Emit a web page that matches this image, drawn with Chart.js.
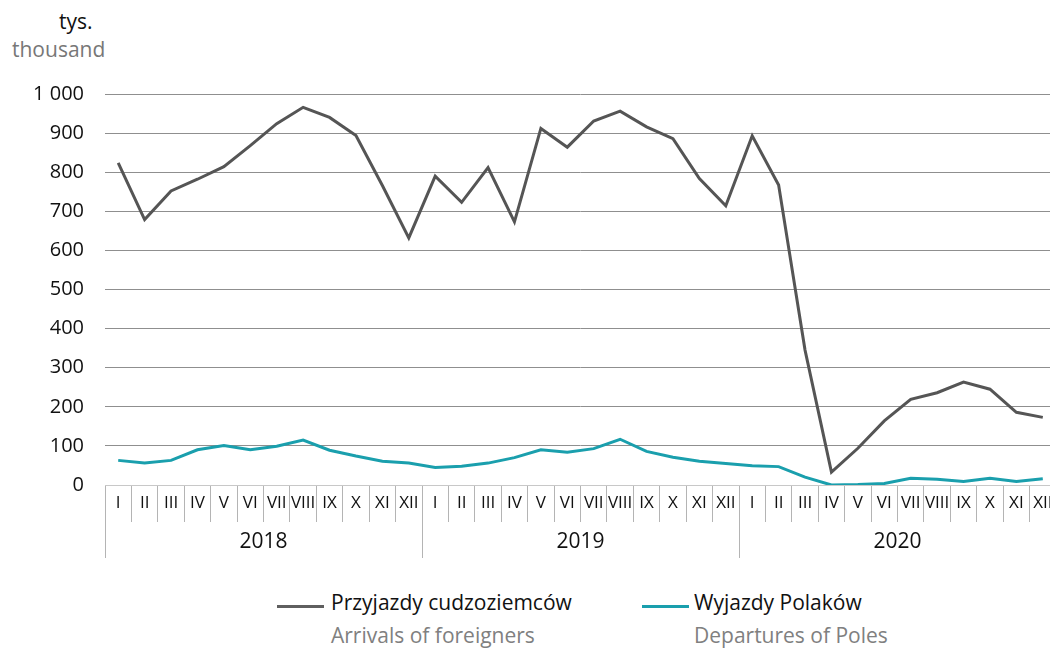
<!DOCTYPE html>
<html lang="pl">
<head>
  <meta charset="utf-8">
  <title>Przyjazdy i wyjazdy</title>
  <script src="https://cdn.jsdelivr.net/npm/chart.js"></script>
  <style>
    * { box-sizing: border-box; margin: 0; padding: 0; }
    html, body { width: 1050px; height: 650px; overflow: hidden; background: #fff; }
    body { position: relative; font-family: 'Open Sans', sans-serif; }
    #wrap { position: absolute; left: 0; top: 0; width: 1060px; height: 560px; }
    .unit { position: absolute; font-size: 21px; line-height: 1; white-space: nowrap; }
    #unitPl { left: 59px; top: 11px; color: #111; }
    #unitEn { left: 12px; top: 39px; color: #777; }
    .leg { position: absolute; top: 592px; font-size: 21px; line-height: 1; white-space: nowrap; }
    .leg .swatch { position: absolute; top: 13px; height: 3px; }
    .leg .pl { color: #111; }
    .leg .en { color: #808080; margin-top: 12px; }
  </style>
</head>
<body>
  <div class="unit" id="unitPl">tys.</div>
  <div class="unit" id="unitEn">thousand</div>
  <div id="wrap"><canvas id="chart"></canvas></div>

  <div class="leg" style="left:331px">
    <span class="swatch" style="left:-54px;width:47px;background:#5f5f5f"></span>
    <div class="pl">Przyjazdy cudzoziemców</div>
    <div class="en">Arrivals of foreigners</div>
  </div>
  <div class="leg" style="left:694px">
    <span class="swatch" style="left:-52px;width:47px;background:#1a9fad"></span>
    <div class="pl">Wyjazdy Polaków</div>
    <div class="en">Departures of Poles</div>
  </div>

  <script>
    // monthly figures, thousands
    const years = ['2018', '2019', '2020'];
    const months = ['I', 'II', 'III', 'IV', 'V', 'VI', 'VII', 'VIII', 'IX', 'X', 'XI', 'XII'];
    const arrivals = [
      824, 679, 752, 782, 814, 868, 924, 966, 940, 894, 766, 632,
      790, 723, 812, 673, 912, 864, 931, 956, 916, 886, 784, 714,
      893, 767, 345, 33, 94, 164, 219, 236, 263, 245, 186, 173
    ];
    const departures = [
      63, 56, 63, 90, 101, 90, 99, 115, 89, 74, 61, 56,
      45, 48, 56, 70, 90, 84, 93, 117, 86, 71, 61, 55,
      49, 47, 20, 0, 1, 4, 17, 15, 9, 17, 9, 16
    ];
    const labels = years.flatMap(() => months);

    const sepColor = '#b4b4b4';

    new Chart(document.getElementById('chart'), {
      type: 'line',
      data: {
        labels,
        datasets: [
          { label: 'Przyjazdy cudzoziemców', data: arrivals, borderColor: '#555555', borderWidth: 3, pointRadius: 0, tension: 0 },
          { label: 'Wyjazdy Polaków', data: departures, borderColor: '#1a9fad', borderWidth: 3, pointRadius: 0, tension: 0 }
        ]
      },
      options: {
        responsive: true,
        maintainAspectRatio: false,
        animation: false,
        layout: { padding: { top: 94, right: 4, bottom: 2, left: 0 } },
        plugins: { legend: { display: false }, tooltip: { enabled: false } },
        scales: {
          x: {
            offset: true,
            weight: 0,
            grid: { offset: true, drawOnChartArea: false, tickLength: 37, color: sepColor },
            border: { color: '#c8c8c8' },
            ticks: {
              autoSkip: false, maxRotation: 0, minRotation: 0, padding: -29,
              color: '#111', font: { family: 'Open Sans', size: 17 }
            },
            afterFit: s => { s.height = 37; }
          },
          x2: {
            type: 'category',
            labels: years,
            position: 'bottom',
            offset: true,
            weight: 1,
            grid: { offset: true, drawOnChartArea: false, tickLength: 36, color: sepColor },
            border: { display: false },
            ticks: { maxRotation: 0, padding: -29, color: '#111', font: { family: 'Open Sans', size: 21 } },
            afterFit: s => { s.height = 36; }
          },
          y: {
            min: 0,
            max: 1000,
            ticks: {
              stepSize: 100, padding: 21, color: '#111',
              font: { family: 'Open Sans', size: 20 },
              callback: v => String(v).replace(/\B(?=(\d{3})+(?!\d))/g, ' ')
            },
            grid: {
              drawTicks: false,
              color: ctx => ctx.tick && ctx.tick.value === 0 ? '#c8c8c8' : '#8f8f8f'
            },
            border: { display: false },
            afterFit: s => { s.width = 105; }
          }
        }
      }
    });
  </script>
</body>
</html>
